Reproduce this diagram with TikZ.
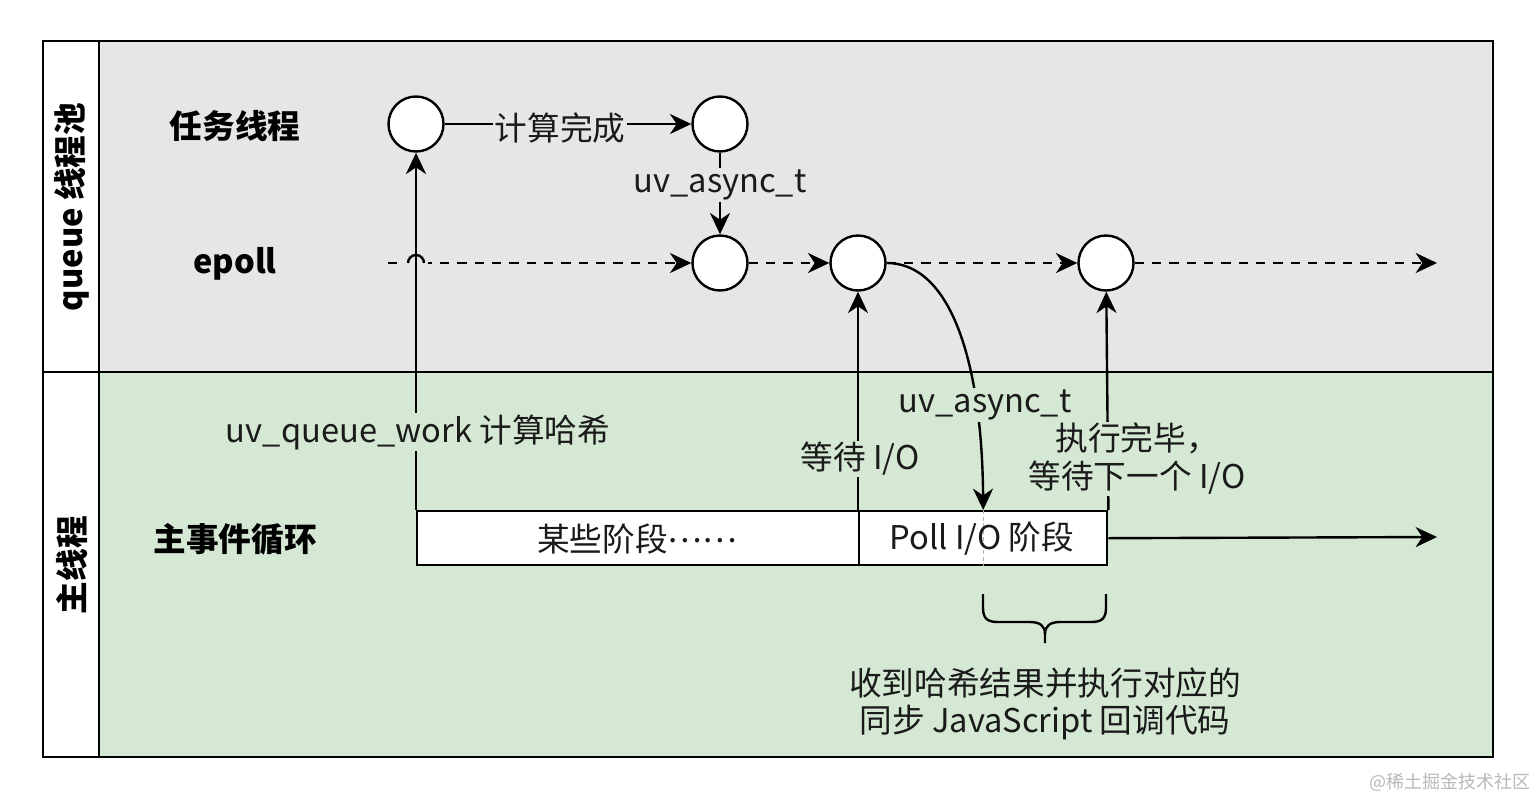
\documentclass[tikz,border=0pt]{standalone}
\usepackage{fontspec}
\setmainfont{Noto Sans CJK SC}
\usetikzlibrary{arrows.meta}
\definecolor{topgray}{HTML}{E6E6E6}
\definecolor{botgreen}{HTML}{D5E8D4}
\definecolor{txt}{HTML}{1A1A1A}
\begin{document}
\begin{tikzpicture}[x=0.75pt,y=-0.75pt,
  every node/.style={font=\fontsize{24.5pt}{28.5pt}\selectfont,text=txt},
  ev/.style={circle,draw=black,fill=white,line width=1.8pt,minimum size=55*0.75pt,inner sep=0pt},
  lane/.style={font=\fontsize{24.5pt}{28.5pt}\selectfont\bfseries,text=black},
  phase/.style={draw=black,fill=white,line width=1.8pt,minimum height=54*0.75pt,inner sep=0pt,anchor=north west},
  conn/.style={line width=1.8pt,-{Stealth[length=16pt,width=15pt,inset=5pt]}},
  dconn/.style={conn,dash pattern=on 7pt off 6pt},
  lblg/.style={fill=topgray,inner sep=1pt},
  lblw/.style={fill=botgreen,inner sep=1pt,align=center}]
\useasboundingbox (0,0) rectangle (1534,800);
% bands
\fill[white] (0,0) rectangle (1534,800);
\fill[topgray] (99,41) rectangle (1493,372);
\fill[botgreen] (99,372) rectangle (1493,757);
\draw[line width=1.8pt] (43,41) rectangle (1493,757);
\draw[line width=1.8pt] (99,41) -- (99,757);
\draw[line width=1.8pt] (43,372) -- (1493,372);
% lane titles
\node[lane,rotate=90] (qpool) at (72,207) {queue 线程池};
\node[lane,rotate=90] (mainth) at (72,565) {主线程};
\node[lane] (task) at (235,126) {任务线程};
\node[lane] (epoll) at (235,264) {epoll};
\node[lane] (loop) at (235,539) {主事件循环};
% event circles
\node[ev] (a1) at (416,124) {};
\node[ev] (b1) at (720,124) {};
\node[ev] (c1) at (720,263) {};
\node[ev] (d1) at (858,263) {};
\node[ev] (e1) at (1106,263) {};
% phases
\node[phase,minimum width=442*0.75pt] (ph1) at (416,510) {};
\node[phase,minimum width=248*0.75pt] (ph2) at (858,510) {};
\node (ph1t) at (637,539) {某些阶段\raisebox{0.28em}{……}};
\draw[gray!60,line width=0.8pt,dash pattern=on 3pt off 2pt] (ph2.north) -- (ph2.south);
\node (ph2t) at (982,539) {Poll I/O 阶段};
% coordinates
\coordinate (estart) at (388,263);
\coordinate (eend) at (1437,263);
\coordinate (mend) at (1437,537);
% epoll dashed line
\draw[dconn] (estart) -- (c1);
\draw[dconn] (c1) -- (d1);
\draw[dconn] (d1) -- (e1);
\draw[dconn] (e1) -- (eend);
% hop over vertical line
\fill[topgray] (405,258) rectangle (428,268);
\draw[line width=1.8pt] (408,263) arc[start angle=180,end angle=360,radius=8];
% main loop line
\draw[conn] (ph2.east) -- (mend);
% vertical arrows
\draw[conn] (ph1.north west) -- (a1);
\draw[conn] (ph2.north west) -- (d1);
\draw[conn] (ph2.north east) -- (e1);
% top arrows
\draw[conn] (a1) -- (b1);
\draw[conn] (b1) -- (c1);
% curve
\draw[conn] (d1.east) .. controls (950,263) and (982,360) .. (ph2.north);
% labels
\node[lblg] (l1) at (560,128) {计算完成};
\node[lblg] (l2) at (720,185) {uv\_async\_t};
\node[lblw] (l3) at (418,432) {uv\_queue\_work 计算哈希};
\node[lblw] (l4) at (860,459) {等待 I/O};
\node[lblw] (l5) at (985,405) {uv\_async\_t};
\node[lblw] (l6) at (1137,459) {执行完毕，\\等待下一个 I/O};
% brace
\draw[line width=1.8pt] (983,594) -- (983,608) .. controls (983,619) and (988,622) .. (998,622) -- (1030,622) .. controls (1040,622) and (1045,626) .. (1045,634) -- (1045,643);
\draw[line width=1.8pt] (1106,594) -- (1106,608) .. controls (1106,619) and (1101,622) .. (1091,622) -- (1060,622) .. controls (1050,622) and (1045,626) .. (1045,634);
\node[align=center,font=\fontsize{24.5pt}{28pt}\selectfont] (res) at (1045,704) {收到哈希结果并执行对应的\\同步 JavaScript 回调代码};
% watermark
\node[text=gray!55,font=\fontsize{13.5pt}{16pt}\selectfont] (wm) at (1450,782) {@稀土掘金技术社区};
\end{tikzpicture}
\end{document}
